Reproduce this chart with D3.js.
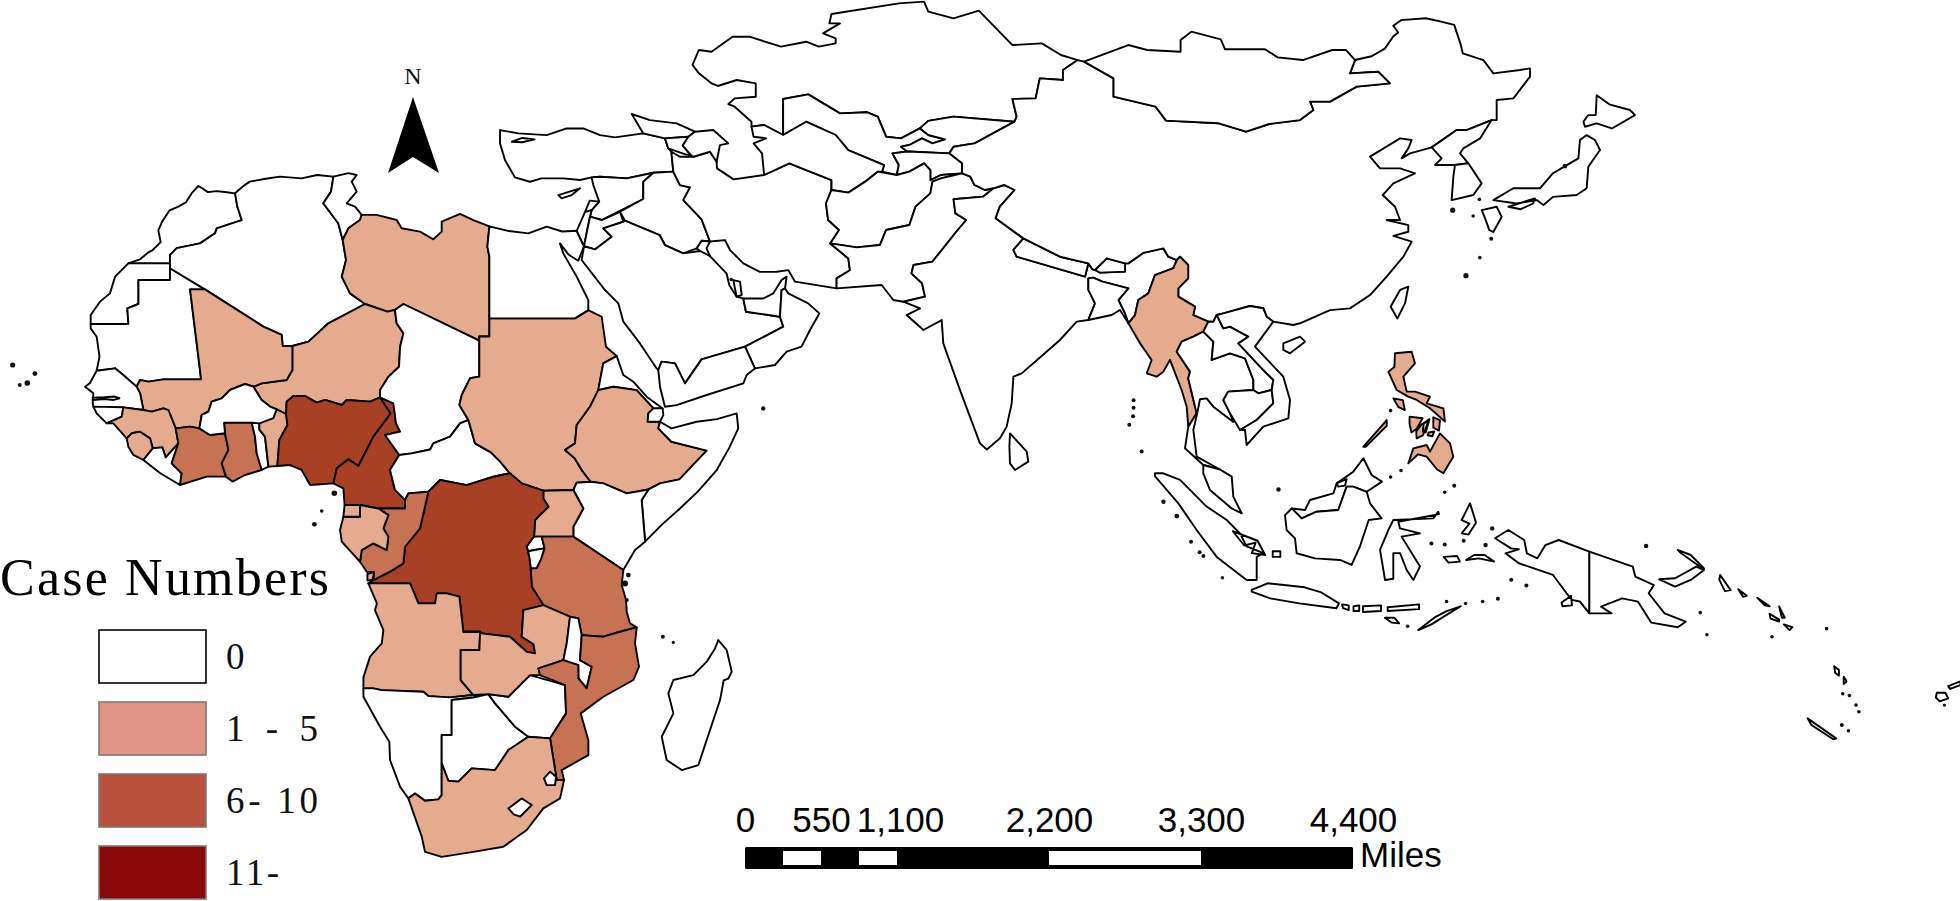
<!DOCTYPE html>
<html>
<head>
<meta charset="utf-8">
<style>
  html, body { margin: 0; background: #fff; }
  svg { display: block; }
</style>
<script src="https://cdn.jsdelivr.net/npm/d3@7"></script>
</head>
<body>
<div id="chart"></div>
<script>
const caseClasses = ['0', '1 - 5', '6- 10', '11-']
const mapColors = ['#ffffff', '#e5ab8e', '#c87254', '#a84024']
const legendColors = ['#ffffff', '#e29486', '#b9503b', '#8b0808']
const legendStrokes = ['#000000', '#7a7a7a', '#7a7a7a', '#7a7a7a']

const scaleTicks = [0, 550, 1100, 2200, 3300, 4400]
const scaleGaps = [[275, 550], [825, 1100], [2200, 3300]]

// name, case class, rings as "lon,lat" (several rings split by |)
const northWestAfrica = [
  ['Morocco', '0', '-12.96,27.7 -11.69,28.15 -10.9,28.83 -10.4,29.1 -9.56,29.93 -9.81,31.18 -9.43,32.04 -8.66,33.24 -7.65,33.7 -6.91,34.11 -6.24,35.15 -5.6,35.84 -5.19,35.6 -4.59,35.2 -3.64,35.3 -2.6,35.18 -1.73,35.07 -1.49,33.67 -1.03,32.26 -3.66,31.39 -3.84,30.86 -5.42,29.8 -7.87,29.3 -8.58,28.58 -8.58,27.7'],
  ['Western Sahara', '0', '-12.96,27.7 -8.58,27.7 -8.58,25.95 -11.9,25.95 -11.9,23.42 -13.07,22.97 -12.96,21.32 -16.93,21.32 -16.93,22.26 -15.94,23.67 -14.9,24.54 -14.36,26.3'],
  ['Mauritania', '0', '-16.93,21.32 -12.96,21.32 -13.07,22.97 -11.9,23.42 -11.9,25.95 -8.58,25.95 -8.58,27.18 -4.9,24.96 -6.47,24.96 -5.42,16.47 -5.31,15.49 -9.28,15.49 -10.86,15.25 -11.73,15.42 -12.1,14.72 -13.5,15.95 -14.36,16.65 -16.3,16.4 -16.0,17.88 -16.3,19.98 -16.93,20.86'],
  ['Algeria', '0', '-1.73,35.07 -0.9,35.8 -0.19,36.3 1.5,36.6 3.0,36.83 5.28,36.65 6.9,37.0 8.62,36.83 8.37,35.25 7.56,34.02 8.62,32.6 9.14,31.9 9.6,30.16 9.95,28.05 9.5,26.3 10.37,24.54 11.95,23.42 8.09,21.39 6.0,19.46 4.3,19.0 3.28,19.0 3.18,20.16 1.25,21.04 -4.9,24.96 -8.58,27.18 -8.58,28.58 -7.87,29.3 -5.42,29.8 -3.84,30.86 -3.66,31.39 -1.03,32.26 -1.49,33.67'],
  ['Tunisia', '0', '8.62,36.83 10.2,37.2 11.07,37.0 10.55,36.3 11.07,35.25 10.02,34.02 10.9,33.67 11.6,32.8 11.42,32.26 10.2,31.39 9.6,30.16 9.14,31.9 8.62,32.6 7.56,34.02 8.37,35.25'],
  ['Libya', '1 - 5', '11.6,32.8 13.18,32.8 15.28,32.26 15.8,31.39 17.74,31.04 19.14,30.23 20.02,31.04 20.02,32.09 21.95,32.9 23.35,32.26 25.04,31.6 24.83,29.46 25.04,28.4 25.04,20 23.98,20 23.98,19.56 15.99,23.42 15.1,22.79 14.3,22.62 11.95,23.42 10.37,24.54 9.5,26.3 9.95,28.05 9.6,30.16 10.2,31.39 11.42,32.26'],
  ['Niger', '1 - 5', '4.3,19.0 6.0,19.46 8.09,21.39 11.95,23.42 14.3,22.62 15.1,22.79 15.28,21.39 15.99,20.33 15.64,18.93 15.53,16.82 14.41,15.77 13.53,14.37 13.53,13.6 12.48,13.14 10.02,13.32 9.5,12.79 7.74,13.32 6.86,13.04 5.64,13.74 4.41,13.74 3.7,13.14 3.64,11.84 2.65,12.33 1.95,12.62 1.07,13.32 0.2,14.72 1.07,15.07 3.7,15.42 4.3,16.47'],
  ['Mali', '1 - 5', '-6.47,24.96 -4.9,24.96 1.25,21.04 3.18,20.16 3.28,19.0 4.3,19.0 4.3,16.47 3.7,15.42 1.07,15.07 0.2,14.72 -0.68,15.0 -2.26,14.37 -3.14,13.49 -4.19,13.14 -4.54,12.09 -5.24,11.74 -5.49,10.33 -6.47,10.51 -7.98,10.33 -8.75,12.26 -9.28,12.44 -10.5,12.09 -11.38,12.26 -11.73,14.02 -12.1,14.72 -11.73,15.42 -10.86,15.25 -9.28,15.49 -5.31,15.49 -5.42,16.47'],
  ['Senegal', '0', '-16.3,16.4 -14.36,16.65 -13.5,15.95 -12.1,14.72 -11.73,14.02 -11.38,12.26 -13.49,12.54 -16.65,12.62 -16.72,12.96 -16.65,14.02 -17.52,14.72 -17.0,15.1'],
  ['Gambia', '0', '-16.72,13.55 -15.5,13.6 -14.4,13.68 -13.9,13.5 -14.5,13.32 -15.5,13.42 -16.7,13.3'],
  ['Guinea-Bissau', '0', '-16.65,12.62 -13.49,12.54 -13.66,11.56 -15.24,10.86 -16.3,11.9'],
  ['Guinea', '1 - 5', '-13.49,12.54 -11.38,12.26 -10.5,12.09 -9.28,12.44 -8.75,12.26 -7.98,10.33 -7.7,8.76 -9.03,7.28 -9.38,8.33 -10.4,8.23 -10.68,9.28 -11.73,9.98 -12.6,9.81 -13.14,9.28 -14.54,10.86 -15.24,10.86 -13.66,11.56'],
  ['Sierra Leone', '1 - 5', '-13.14,9.28 -12.6,9.81 -11.73,9.98 -10.68,9.28 -10.4,8.23 -11.38,7.0 -12.44,7.53 -12.96,8.4'],
  ['Liberia', '0', '-11.38,7.0 -10.4,8.23 -9.38,8.33 -9.03,7.28 -7.7,8.76 -8.4,6.65 -7.35,5.6 -7.52,4.37 -9.6,5.6'],
  ['Ivory Coast', '6- 10', '-7.98,10.33 -6.47,10.51 -5.49,10.33 -4.37,9.63 -2.79,9.81 -2.43,8.05 -3.14,6.65 -2.68,5.25 -4.72,5.25 -7.52,4.37 -7.35,5.6 -8.4,6.65 -7.7,8.76'],
  ['Ghana', '6- 10', '-2.89,10.93 0.02,10.93 0.37,9.46 0.55,7.7 1.07,5.95 -0.68,5.42 -1.98,4.72 -2.68,5.25 -3.14,6.65 -2.43,8.05 -2.79,9.81'],
  ['Togo', '0', '0.02,10.93 0.83,10.86 0.83,10.2 1.42,9.46 1.78,6.3 1.07,5.95 0.55,7.7 0.37,9.46'],
  ['Benin', '1 - 5', '2.65,12.33 3.64,11.84 3.78,10.69 2.93,9.11 2.72,6.37 1.78,6.3 1.42,9.46 0.83,10.2 0.83,10.86'],
  ['Burkina Faso', '0', '0.2,14.72 1.07,13.32 1.95,12.62 2.65,12.33 2.3,11.4 0.83,10.86 0.02,10.93 -2.89,10.93 -2.79,9.81 -4.37,9.63 -5.49,10.33 -5.24,11.74 -4.54,12.09 -4.19,13.14 -3.14,13.49 -2.26,14.37 -0.68,15.0'],
  ['Nigeria', '11-', '2.72,6.37 2.93,9.11 3.78,10.69 3.64,11.84 3.7,13.14 4.41,13.74 5.64,13.74 6.86,13.04 7.74,13.32 9.5,12.79 10.02,13.32 12.48,13.14 13.53,13.6 14.65,11.9 12.83,9.46 11.25,6.37 10.2,7.07 8.97,6.12 8.62,4.54 6.16,4.37 5.28,5.95 4.06,6.47'],
  ['Cameroon', '11-', '13.53,13.6 14.93,12.97 15.21,10.86 15.64,9.98 14.05,9.63 15.55,7.53 14.58,5.95 15.1,3.84 16.16,2.79 16.16,1.9 13.36,1.9 11.42,2.26 9.8,2.26 9.67,4.02 8.62,4.54 8.97,6.12 10.2,7.07 11.25,6.37 12.83,9.46 14.65,11.9'],
  ['Chad', '0', '15.1,22.79 15.99,23.42 23.98,19.56 23.98,15.77 23,15.6 22.13,13.84 21.88,12.79 22.83,11.21 21.95,10.86 20.9,9.46 19.14,8.75 18.8,8.1 16.86,7.7 15.55,7.53 14.05,9.63 15.64,9.98 15.21,10.86 14.93,12.97 13.53,13.6 13.53,14.37 14.41,15.77 15.53,16.82 15.64,18.93 15.99,20.33 15.28,21.39']
]

const eastCentralAfrica = [
  ['Central African Republic', '0', '15.55,7.53 16.86,7.7 18.8,8.1 19.14,8.75 20.9,9.46 21.95,10.86 22.83,11.21 23.53,8.75 25.2,7.8 26.17,6.83 27.2,5.6 25.46,5.24 22.65,4.36 19.85,4.89 18.62,3.66 16.51,3.49 16.16,2.79 15.1,3.84 14.58,5.95'],
  ['Sudan', '1 - 5', '25.04,20 25.04,21.91 34.05,21.91 35.45,22.78 36.86,22.08 37.31,18.93 38.44,17.94 37.03,17.17 36.5,14.36 35.63,12.61 34.23,10.68 34.05,8.75 33.0,8.05 34.0,7.2 34.76,5.94 35.7,4.71 34.23,4.61 33.88,3.84 30.72,3.77 28.45,4.54 27.2,5.6 26.17,6.83 25.2,7.8 23.53,8.75 22.83,11.21 21.88,12.79 22.13,13.84 23,15.6 23.98,15.77 23.98,20'],
  ['Egypt', '0', '25.04,31.6 27.1,31.1 29.14,30.85 31.07,31.56 32.7,31.05 34.23,31.13 35.0,29.5 34.4,27.98 33.4,28.6 32.47,29.8 32.82,28.75 34.23,26.3 35.45,23.84 35.45,22.78 34.05,21.91 25.04,21.91 25.04,28.4 24.83,29.46'],
  ['Eritrea', '0', '36.5,14.36 37.03,17.17 38.44,17.94 39.14,15.94 40.19,15.24 41.59,13.66 43.28,12.43 42.3,12.43 40.54,14.36 38.09,14.71'],
  ['Ethiopia', '1 - 5', '36.5,14.36 38.09,14.71 40.54,14.36 42.3,12.43 41.77,11.9 41.7,11.03 43.0,11.03 42.82,10.33 44.2,8.92 47.91,7.98 45.04,4.96 43.0,4.54 41.78,3.9 39.5,3.49 37.04,4.54 35.7,4.71 34.76,5.94 34.0,7.2 33.0,8.05 34.05,8.75 34.23,10.68 35.63,12.61'],
  ['Djibouti', '0', '42.3,12.43 43.28,12.43 43.35,11.73 43.0,11.03 41.7,11.03 41.77,11.9'],
  ['Somalia', '0', '43.0,11.03 44.2,10.33 46.86,11.03 49.0,11.3 51.07,11.9 51.24,10.33 50.3,8.3 48.97,5.94 47.0,3.7 45.1,1.9 43.2,0.2 41.43,-1.6 41.07,2.78 41.78,3.9 43.0,4.54 45.04,4.96 47.91,7.98 44.2,8.92 42.82,10.33'],
  ['Kenya', '0', '41.07,2.78 41.43,-1.6 40.37,-2.48 39.14,-4.58 33.88,-1.07 33.88,-0.02 34.93,1.9 33.88,3.84 34.23,4.61 35.7,4.71 37.04,4.54 39.5,3.49 41.78,3.9'],
  ['Uganda', '1 - 5', '30.72,3.77 33.88,3.84 34.93,1.9 33.88,-0.02 33.88,-1.07 30.55,-1.07 29.74,-1.07 29.85,0.68 31.25,2.08 30.72,2.96'],
  ['Rwanda', '0', '29.74,-1.07 30.55,-1.07 30.85,-2.3 29.95,-2.45 29.1,-2.6 28.97,-2.1 29.4,-1.5'],
  ['Burundi', '0', '29.1,-2.6 29.95,-2.45 30.85,-2.3 30.5,-3.4 30.02,-4.41 29.39,-4.41 29.25,-3.3'],
  ['Tanzania', '6- 10', '30.55,-1.07 33.88,-1.07 39.14,-4.58 38.97,-6.16 39.43,-7.74 39.5,-9.0 39.85,-10.2 40.55,-10.62 38.79,-11.08 37.04,-11.6 34.76,-11.43 34.4,-9.67 33.53,-9.5 30.72,-8.27 29.5,-6.34 29.39,-4.41 30.02,-4.41 30.5,-3.4 30.85,-2.3'],
  ['DR Congo', '11-', '18.62,3.66 19.85,4.89 22.65,4.36 25.46,5.24 27.2,5.6 28.45,4.54 30.72,3.77 30.72,2.96 31.25,2.08 29.85,0.68 29.74,-1.07 29.4,-1.5 28.97,-2.1 29.1,-2.6 29.25,-3.3 29.39,-4.41 29.5,-6.34 30.72,-8.27 28.62,-8.8 28.44,-11.6 29.67,-12.37 29.85,-13.36 28.97,-13.18 27.21,-11.6 24.23,-11.25 24.06,-11.08 22.3,-11.08 21.88,-7.39 20.55,-7.04 19.5,-7.04 19.32,-8.09 17.57,-8.09 16.69,-5.99 12.3,-5.99 12.83,-5.64 14.58,-4.76 15.99,-3.88 16.16,-2.13 17.74,-0.2'],
  ['Congo', '6- 10', '16.51,3.49 18.62,3.66 17.74,-0.2 16.16,-2.13 15.99,-3.88 14.58,-4.76 12.83,-5.64 12.9,-4.8 12.13,-4.76 11.42,-3.71 11.6,-2.48 12.83,-1.78 14.23,-2.48 14.41,-1.07 13.88,-0.2 14.41,1.2 13.36,1.9 16.16,1.9 16.16,2.79'],
  ['Gabon', '1 - 5', '11.42,2.26 13.36,1.9 14.41,1.2 13.88,-0.2 14.41,-1.07 14.23,-2.48 12.83,-1.78 11.6,-2.48 11.42,-3.71 9.5,-1.6 9.32,-0.37 9.67,1.03 11.42,1.03'],
  ['Equatorial Guinea', '1 - 5', '9.8,2.26 11.42,2.26 11.42,1.03 9.67,1.03'],
  ['Angola', '1 - 5', '12.3,-5.99 16.69,-5.99 17.57,-8.09 19.32,-8.09 19.5,-7.04 20.55,-7.04 21.88,-7.39 22.3,-11.08 24.06,-11.08 23.99,-13 22.02,-13 22.02,-16.16 23.35,-17.74 20.9,-17.99 18.62,-17.85 18.09,-17.39 13.71,-17.22 12.83,-17.04 11.78,-17.04 11.78,-15.88 12.48,-13.7 13.71,-12.3 13.88,-10.9 13.0,-8.8 13.2,-8.1|12.2,-5.0 12.9,-4.8 12.75,-5.6 12.2,-5.7']
]

const southernAfrica = [
  ['Namibia', '0', '11.78,-17.04 12.83,-17.04 13.71,-17.22 18.09,-17.39 18.62,-17.85 20.9,-17.99 23.35,-17.74 24.93,-17.64 23.35,-18.0 21.07,-18.27 21.07,-21.95 20.02,-21.95 20.02,-28.27 19.67,-28.72 18.27,-28.87 17.21,-28.1 16.51,-28.62 15.64,-27.39 14.58,-24.58 14.51,-22.65 13.53,-21.07 11.78,-17.92'],
  ['Botswana', '0', '21.07,-18.27 23.35,-18.0 24.93,-17.64 25.64,-18.62 27.74,-21.07 29.14,-22.13 27.04,-23.53 25.64,-25.64 23.18,-25.46 21.78,-26.86 20.72,-26.76 20.02,-24.94 20.02,-21.95 21.07,-21.95'],
  ['Zimbabwe', '0', '24.93,-17.64 27.04,-17.92 29.32,-15.64 33.0,-16.7 33.11,-19.67 31.43,-22.3 29.14,-22.13 27.74,-21.07 25.64,-18.62'],
  ['Zambia', '1 - 5', '22.3,-11.08 24.06,-11.08 24.23,-11.25 27.21,-11.6 28.97,-13.18 29.85,-13.36 29.67,-12.37 28.44,-11.6 28.62,-8.8 30.72,-8.27 33.53,-9.5 33.18,-12.3 32.83,-14.06 30.2,-14.94 30.37,-15.64 29.32,-15.64 27.04,-17.92 24.93,-17.64 23.35,-17.74 22.02,-16.16 22.02,-13 23.99,-13 24.06,-11.08'],
  ['Malawi', '0', '33.53,-9.5 34.4,-9.67 34.76,-11.43 34.58,-14.06 35.81,-14.76 35.28,-17.04 34.41,-15.99 34.4,-14.6 32.83,-14.06 33.18,-12.3'],
  ['Mozambique', '6- 10', '40.55,-10.62 38.79,-11.08 37.04,-11.6 34.76,-11.43 34.58,-14.06 35.81,-14.76 35.28,-17.04 34.41,-15.99 34.4,-14.6 32.83,-14.06 30.2,-14.94 30.37,-15.64 33.0,-16.7 33.11,-19.67 31.43,-22.3 32.13,-26.69 32.9,-26.69 32.65,-25.64 35.46,-24.06 35.46,-22.5 34.65,-19.67 37.04,-17.92 40.2,-16.16 40.79,-14.76 40.37,-12.3'],
  ['South Africa', '1 - 5', '20.02,-24.94 20.72,-26.76 21.78,-26.86 23.18,-25.46 25.64,-25.64 27.04,-23.53 29.14,-22.13 31.43,-22.3 32.13,-26.69 32.9,-26.69 32.48,-28.62 30.72,-29.67 28.97,-31.95 26.51,-33.71 23.35,-34.25 20.02,-34.77 18.27,-34.25 17.92,-32.65 16.51,-28.62 17.21,-28.1 18.27,-28.87 19.67,-28.72 20.02,-28.27'],
  ['Lesotho', '0', '27.04,-29.67 28.44,-28.62 29.5,-29.32 28.27,-30.55 27.6,-30.3'],
  ['Swaziland', '0', '30.79,-26.51 31.43,-25.81 32.06,-26.34 31.95,-27.22 31.07,-27.22'],
  ['Madagascar', '0', '49.14,-11.95 50.02,-13 50.55,-15.29 50.2,-16 49.7,-16.2 49.32,-18.27 47.04,-25.11 45.28,-25.64 43.7,-24.58 43.18,-22.13 44.41,-19.67 43.88,-17.57 44.41,-16.16 46.51,-15.64 47.92,-14.23 48.79,-12.83']
]

const middleEast = [
  ['Turkey', '0', '26.16,41.73 28.1,41.38 31.07,41.2 33.17,41.9 34.93,41.9 36.68,41.2 38.26,40.96 41.24,41.38 43.52,40.85 43.87,39.8 44.2,39.45 44.4,37.35 42.3,37.24 39.49,36.64 36.68,36.82 35.8,36.75 34.58,36.47 32.82,36.64 30.54,36.64 29.3,36.29 27.73,36.75 26.68,38.57 26.16,40.33'],
  ['Marmara', '0', '27.4,40.5 28.5,40.9 29.8,40.75 28.5,40.45'],
  ['Cyprus', '0', '32.3,34.89 34.58,35.6 33.7,34.89 32.65,34.54'],
  ['Syria', '0', '35.8,36.75 36.68,36.82 39.49,36.64 42.3,37.24 41.24,36.29 41.24,34.47 36.86,32.26 35.63,32.61 35.8,33.3 36.6,34.2 35.98,35.94'],
  ['Lebanon', '0', '35.1,33.1 35.6,34.3 36.6,34.2 35.8,33.3'],
  ['Israel', '0', '34.23,31.13 35.1,33.1 35.8,33.3 35.63,32.61 35.4,31.5 35.0,29.5'],
  ['Jordan', '0', '36.86,32.26 35.63,32.61 35.4,31.5 35.0,29.5 36.15,29.17 37.91,30.5 37.03,31.38 39.14,32.08 38.79,33.13'],
  ['Iraq', '0', '42.3,37.24 44.4,37.35 45.1,35.94 46.16,35.7 45.45,34.36 47.38,32.33 48.26,30.0 47.38,30.08 46.86,29.27 45.45,28.75 43.52,29.63 42.96,30.68 39.31,32.19 38.79,33.13 41.24,34.47 41.24,36.29'],
  ['Kuwait', '0', '46.86,29.27 47.38,30.08 48.26,30.0 47.9,29.27 48.26,28.47 47.2,29.0'],
  ['Saudi Arabia', '0', '34.75,28.05 35.0,29.5 36.15,29.17 37.91,30.5 37.03,31.38 39.14,32.08 39.31,32.19 42.96,30.68 43.52,29.63 45.45,28.75 47.2,29.0 48.26,28.47 50.0,26.65 50.3,25.4 51.07,24.19 51.77,24.0 52.05,22.61 55.63,22.08 55.98,21.03 51.95,18.93 47.38,17.59 45.63,15.07 44.58,17.17 43.17,17.35 42.82,16.47 42.65,16.64 40.89,19.27 39.14,21.56 38.61,23.49 37.21,24.89'],
  ['Qatar', '0', '50.72,25.94 51.42,25.77 51.6,24.37 51.07,24.19 50.9,25.0'],
  ['UAE', '0', '51.77,24.0 52.05,22.61 55.63,22.08 55.8,24.89 56.16,25.07 56.33,26.3 55.8,25.94 54.93,24.54 53.87,24.0'],
  ['Oman', '0', '51.95,18.93 55.98,21.03 55.63,22.08 55.8,24.89 56.16,25.07 56.5,24.54 58.6,23.49 59.77,22.43 58.79,20.68 57.9,18.93 56.33,18.4 55.1,17 52.99,16.64'],
  ['Yemen', '0', '42.82,16.47 43.17,17.35 44.58,17.17 45.63,15.07 47.38,17.59 51.95,18.93 52.99,16.64 52.12,15.94 51.77,15.07 47.91,13.84 44.75,12.78 43.52,12.61 43.0,14.71'],
  ['Iran', '0', '44.2,39.45 45.1,38.92 46.51,38.92 48.26,39.45 48.96,38.4 49.0,37.7 50.75,36.54 53.96,37.0 56.62,38.23 58.39,37.52 61.05,36.47 61.05,35.42 60.47,34.0 60.7,32.26 61.85,31.21 60.92,29.8 62.82,28.22 62.99,26.98 61.59,26.12 61.59,25.07 57.21,25.77 56.5,26.99 55.28,26.82 53.5,26.8 51.77,27.7 50.37,29.1 49.84,30.15 48.26,30.0 47.38,32.33 45.45,34.36 46.16,35.7 45.1,35.94 44.4,37.35'],
  ['Georgia', '0', '40.02,43.42 41.94,42.78 44.75,42.43 46.68,41.56 45.98,41.03 43.52,40.85 41.24,41.38'],
  ['Armenia', '0', '43.52,40.85 45.98,41.03 45.4,40.1 46.3,39.05 45.6,39.2 43.87,39.8'],
  ['Azerbaijan', '0', '46.68,41.56 48.61,41.73 50.19,40.33 49.31,40.15 48.96,38.4 48.26,39.45 46.51,38.92 46.3,39.05 45.4,40.1 45.98,41.03']
]

const centralSouthAsia = [
  ['Kazakhstan', '0', '47.09,50.16 48.42,49.98 50.64,51.56 52.41,51.56 54.63,50.86 55.73,50.51 58.39,51.03 59.72,50.51 61.49,50.86 61.49,51.39 60.16,51.91 61.94,52.96 60.83,52.96 61.05,53.95 68.14,55.07 70.8,55.25 71.24,54.19 73.9,53.49 76.56,54.3 80.1,50.68 83.2,50.86 85.2,49.63 86.97,49.1 85.42,48.05 85.42,47 82.98,47.17 82.54,45.07 80.1,45 80.54,43.14 80.32,42.61 73.9,43.14 71.24,42.7 70.35,41.91 68.36,40.86 66.8,41.03 65.92,43.14 64.82,43.6 61.94,43.49 58.61,45.49 55.96,45 55.96,41.21 53.96,42.26 52.63,42.09 52.63,42.61 50.86,44.19 50.2,44.47 50.86,45.07 53.08,45.24 53.08,46.65 51.08,47 49.09,46.37 48.42,46.65 47.09,47.7 46.43,48.58'],
  ['Uzbekistan', '0', '55.96,45 58.61,45.49 61.94,43.49 64.82,43.6 65.92,43.14 66.8,41.03 68.36,40.86 70.35,41.91 71.24,41.21 73.01,40.75 71.68,40.33 70.58,40.86 69.25,40.16 68.36,39.98 69.03,39.47 67.47,39.28 68.14,38.05 67.92,37 66.37,37.35 66.59,38.05 62.82,39.63 61.49,41.21 59.94,41.9 58.39,42.61 55.96,41.21'],
  ['Turkmenistan', '0', '55.96,41.21 58.39,42.61 59.94,41.9 61.49,41.21 62.82,39.63 66.59,38.05 66.37,37.35 65.92,37.35 64.6,36.3 62.82,35.14 61.05,35.42 61.05,36.47 58.39,37.52 56.62,38.23 53.96,37 53.74,39.28 52.85,40.33 54.18,40.86 52.85,41.03 52.63,42.09 53.96,42.26'],
  ['Kyrgyzstan', '0', '70.35,41.91 71.24,42.7 73.9,43.14 80.32,42.61 76.11,40.33 73.9,39.98 73.46,39.28 69.25,39.47 69.03,39.47 68.36,39.98 69.25,40.16 70.58,40.86 71.68,40.33 73.01,40.75 71.24,41.21'],
  ['Tajikistan', '0', '67.47,39.28 69.03,39.47 73.46,39.28 74.8,38.23 74.8,37.17 72.57,37.0 71.46,36.47 71.46,37.52 70.8,38.23 69.25,37.35 67.92,37 68.14,38.05'],
  ['Afghanistan', '0', '61.05,35.42 62.82,35.14 64.6,36.3 65.92,37.35 67.92,37 69.25,37.35 70.8,38.23 71.46,37.52 71.46,36.47 72.57,37 74.8,37.17 72.57,36.65 71.68,36.3 71.46,35.07 69.9,33.67 69.25,31.74 66.8,31.21 66.15,29.63 63.7,29.38 60.92,29.8 61.85,31.21 60.7,32.26 60.47,34'],
  ['Pakistan', '0', '60.92,29.8 63.7,29.38 66.15,29.63 66.8,31.21 69.25,31.74 69.9,33.67 71.46,35.07 71.68,36.3 72.57,36.65 74.8,37.17 75.67,36.82 76.1,35.95 77.2,35.42 78.1,35.6 77,34.72 73.9,34.44 74.1,32.96 75.23,32.26 74.34,31.21 72.8,29.28 71.68,27.88 69.69,27.53 69.47,26.65 70.58,25.6 70.9,24.19 68.61,23.66 67.56,23.84 66.33,25.42 61.59,25.07 61.59,26.12 62.99,26.98 62.82,28.22'],
  ['India', '0', '73.9,34.44 77,34.72 78.1,35.6 79.22,35.95 80.32,35.42 78.77,33.67 78.33,32.44 81.25,30.33 80.2,29.11 80.54,28.4 87.74,26.3 88.09,27.7 88.5,27.1 88.79,27 89.32,26.72 91.95,26.83 91.95,27.7 92.3,27.7 93.88,28.8 95.98,29.28 96.51,28.4 97.4,28.05 97.04,27.2 95.1,26.47 94.4,24.54 93.35,23.84 93,22.26 92.3,21.39 91.95,22.4 91.25,23.84 92.3,25.07 89.5,25.8 88.6,26.2 88.09,26.12 88.09,24.9 88.79,23.49 88.09,21.74 86.86,21.56 85.1,19.63 82.3,17.18 81.07,16.12 80.2,15.77 80.02,12.96 79.49,10.51 78.79,9.28 77.4,8.1 76.68,8.75 74.58,14.36 72.82,19.28 72.65,21.73 70.72,20.68 68.96,22.26 70.37,22.96 68.61,23.66 70.9,24.19 70.58,25.6 69.47,26.65 69.69,27.53 71.68,27.88 72.8,29.28 74.34,31.21 75.23,32.26 74.1,32.96'],
  ['Nepal', '0', '81.25,30.33 80.2,29.11 80.54,28.4 87.74,26.3 88.09,27.7 85.1,28.4'],
  ['Bhutan', '0', '88.79,27 90.02,28.23 91.95,27.7 91.95,26.83 89.32,26.72'],
  ['Bangladesh', '0', '88.09,26.12 88.6,26.2 89.5,25.8 92.3,25.07 91.25,23.84 91.95,22.4 92.3,21.39 91.42,22.79 90.54,22.26 88.09,21.74 88.79,23.49 88.09,24.9'],
  ['Sri Lanka', '0', '79.84,9.8 81.6,7.88 81.77,6.83 80.37,5.95 79.84,6.65 79.78,8.4']
]

const eastAsia = [
  ['China', '0', '87.63,48.93 90.74,47.17 90.74,45.25 95.17,44.19 96.27,42.72 101.81,42.44 104.69,41.56 107.13,42.37 110.37,42.78 111.77,43.84 111.42,44.72 113.53,44.72 116.34,46.3 119.84,46.65 118.6,47.87 115.63,47.7 116.16,49.1 117.9,49.5 119.3,50.3 120.2,51.6 120.7,52 120.2,52.7 121,53.3 123.6,53.5 125,53.2 126.6,52.8 127.3,50.7 127.5,49.8 129.67,49.1 130.72,47.7 133.53,48.05 134.58,48.22 134.58,47.35 132.83,45.07 131.07,44.89 131.07,42.78 130.54,42.78 127.91,41.73 126.86,41.73 124.23,39.91 121.95,39.28 121.07,38.75 121.77,39.8 122.12,40.68 120.9,40.85 117.74,38.93 118.79,37.7 120.9,37.7 122.47,37.17 120.2,36.12 119.07,34.89 120.37,33.66 120.9,32.26 119.49,32.26 121.77,31.73 121.77,31.03 120.2,30.6 122.12,29.98 121.25,28.4 119.49,26.3 117.74,24.36 115.63,22.96 113.53,22.78 110.37,21.39 109.67,21.21 107.56,21.56 106.86,22.09 106.51,22.97 105.1,23.21 102.3,22.44 101.6,22.26 101.25,21.56 100.72,21.56 99.14,22.26 99.32,23.14 97.56,24.2 97.56,25.07 98.6,26.12 98.6,27.53 97.74,28.4 97.4,28.05 96.51,28.4 95.98,29.28 93.88,28.8 92.3,27.7 91.95,27.7 90.02,28.23 88.79,27 88.5,27.1 88.09,27.7 85.1,28.4 81.25,30.33 78.33,32.44 78.77,33.67 80.32,35.42 79.22,35.95 78.1,35.6 77.2,35.42 76.1,35.95 75.67,36.82 74.8,37.17 74.8,38.23 73.46,39.28 73.9,39.98 76.11,40.33 80.32,42.61 80.54,43.14 80.1,45 82.54,45.07 82.98,47.17 85.42,47 85.42,48.05 86.97,49.1'],
  ['Mongolia', '0', '87.63,48.93 92.3,50.68 94.28,50.16 97.8,49.98 97.8,51.21 98.93,52.09 102.03,51.28 102.48,50.23 106.69,50.23 108.02,49.38 110.67,49.1 113.77,50.16 115.2,50.16 116.16,49.1 115.63,47.7 118.6,47.87 119.84,46.65 116.34,46.3 113.53,44.72 111.42,44.72 111.77,43.84 110.37,42.78 107.13,42.37 104.69,41.56 101.81,42.44 96.27,42.72 95.17,44.19 90.74,45.25 90.74,47.17'],
  ['North Korea', '0', '124.23,39.91 126.86,41.73 127.91,41.73 130.54,42.78 129.32,40.85 127.56,39.8 127.21,39.28 128.09,38.23 126.68,38.05 124.58,38.05 125.28,38.75'],
  ['South Korea', '0', '126.68,38.05 128.09,38.23 129.49,36.12 128.61,34.89 126.33,34.36 126.51,36.82'],
  ['Taiwan', '0', '121.77,25.24 120.9,24.9 119.91,23.13 120.62,21.9 121.42,23.48'],
  ['Hainan', '0', '108.61,19.28 110.37,19.98 110.9,19.46 109.32,18.23 108.61,18.6'],
  ['Japan', '0', '130.72,34.36 132.82,35.6 135.63,35.6 136.98,37.17 139.67,38.75 139.84,40.68 140.54,41.2 141.42,40.68 141.95,39.63 140.72,37.87 140.54,35.6 139.49,34.89 137,34.7 136,33.84 135.28,34.36 133.17,34|141.6,45.4 143,44.4 145.1,43.84 145.63,43.3 143.2,41.9 141.6,42.43 140.37,42.08 140.2,42.6 140.7,43.3 141.5,43.3|132.3,33.66 135.1,34.54 134.9,34 133.6,33.4|129.5,33.3 131.07,33.66 131.6,32.6 130.72,31 130.3,31.2 129.9,32.3']
]

const southeastAsia = [
  ['Myanmar', '1 - 5', '97.74,28.4 98.6,27.53 98.6,26.12 97.56,25.07 97.56,24.2 99.32,23.14 99.14,22.26 100.72,21.56 100.19,20.51 99.14,19.98 97.91,19.46 97.39,18.4 98.79,16.3 98.6,15.6 99.49,11.91 98.61,10.51 98.44,12.61 97.91,14.37 96.68,17.53 95.98,16.3 95.28,15.77 94.23,16.12 94.75,17.53 93.53,19.28 92.3,21.39 93,22.26 93.35,23.84 94.4,24.54 95.1,26.47 97.04,27.2 97.4,28.05'],
  ['Thailand', '0', '100.19,20.51 101.25,19.46 101.07,17.53 103,18.23 104.58,17.7 105.46,15.42 105.46,14.37 102.82,14.2 102.3,13.32 103,11.91 103.35,11 101.25,12.61 100.54,13.49 99.84,13.4 99.55,11.91 99.14,10.16 99.49,7.35 101.95,6 100.19,6.47 98.26,8.23 98.61,10.51 99.49,11.91 98.6,15.6 98.79,16.3 97.39,18.4 97.91,19.46 99.14,19.98'],
  ['Laos', '0', '101.6,22.26 102.3,20.86 103,21.04 104.93,19.98 103.88,19.28 106.51,16.47 107.56,15.42 107.39,14.37 105.98,14.02 105.46,14.37 105.46,15.42 104.58,17.7 103,18.23 101.07,17.53 101.25,19.46 100.19,20.51 100.72,21.56 101.25,21.56'],
  ['Cambodia', '0', '102.3,13.32 102.82,14.2 105.46,14.37 105.98,14.02 107.39,14.37 107.56,12.96 105.81,11.21 104.05,10.16 103,11.91'],
  ['Vietnam', '0', '101.6,22.26 102.3,22.44 105.1,23.21 106.51,22.97 106.86,22.09 107.56,21.56 105.63,18.93 108.61,15.77 109.32,13.32 109.14,11.39 106.51,10.51 104.75,8.58 104.58,10.16 104.05,10.16 105.81,11.21 107.56,12.96 107.39,14.37 107.56,15.42 106.51,16.47 103.88,19.28 104.93,19.98 103,21.04 102.3,20.86'],
  ['Malaysia', '0', '100.19,6.47 101.95,6 103.18,5.25 103.35,3.14 104.23,1.39 103.18,1.9 100.89,3.84 100.19,5.6|109.5,1.9 110.54,0.86 112.12,1.56 114.4,1.74 115.28,4.2 115.98,4.2 117.39,3.65 119,4.72 117.91,5.42 117.04,7.18 115.98,5.77 114.23,4.54 113.88,3.49 111.42,2.79 110.9,1.74'],
  ['Indonesia', '0', '95.1,5.6 95.98,5.6 97.74,4.9 100.54,2.1 102.65,0.68 104.05,-0.72 104.75,-2.1 106.51,-2.8 105.81,-3.2 105.81,-5.63 104.75,-5.63 101.6,-3.2 99.49,-0.37 97.56,2.44 95.1,5.3|105.28,-6.68 106.95,-5.98 110.85,-6.4 112.53,-6.9 114.47,-8.09 114.2,-8.6 110.3,-8.09 107.23,-7.56 105.28,-6.86|109.5,1.9 110.54,0.86 112.12,1.56 114.4,1.74 115.28,4.2 115.98,4.2 117.39,3.65 117.74,2.44 118.96,0.86 117.6,0.68 116.68,-2.1 115.8,-4.05 114.58,-3.52 111.95,-3.35 110.02,-2.82 109.84,-1.25 108.96,-0.37 108.79,1.2|124.93,1.56 124.4,0.86 120.19,0.68 119.67,-0.37 118.79,-2.47 119.32,-5.63 120.19,-5.5 120.19,-2.8 120.9,-2.8 121.6,-4.58 122.3,-5.63 123,-4.2 121.07,-1.07 123,-0.72 120.89,-0.19 120.72,0.5 125,1.3|128.26,2.44 127.39,0.68 128.2,0.3 127.39,-0.72 128.1,-0.85 128.9,0.4|140.83,-2.65 137.6,-1.42 136.2,-1.95 135.36,-3.35 134.25,-2.82 133.97,-1.42 132.3,-0.37 130.9,-1.24 132.58,-2.3 133.4,-2.4 132,-2.82 133.4,-3.87 137,-5.1 138.43,-7.03 139,-7.73 139.83,-7.9 140.83,-9.14|122.83,-10.9 124.5,-9.6 125.8,-8.9 127.29,-8.4 125.8,-9.3 124.2,-10.3|127.85,-3.52 128.7,-3 129.8,-3 130.8,-3.7 129.2,-3.35|119.3,-9.6 120.3,-9.6 120.8,-10.2 120,-10.1|114.8,-8.2 115.5,-8.3 115.5,-8.8 114.9,-8.6|116,-8.4 116.6,-8.3 116.6,-8.9 116,-8.9|117,-8.4 118.9,-8.3 118.9,-8.9 117,-9|119.6,-8.5 122.9,-8.2 122.9,-8.7 119.6,-8.9|103.3,-0.5 104.5,-2 105.7,-1.7 105.3,-2.8 106.7,-3 105.9,-1.5|107.5,-2.6 108.3,-2.6 108.3,-3.2 107.5,-3.2|125.5,-3.2 126.9,-3.1 127.2,-3.7 126,-3.8|137.9,-8 138.9,-7.3 139,-8.3 138,-8.4'],
  ['Brunei', '0', '114.23,4.54 115.28,5.0 115.1,4.3 114.4,4.2'],
  ['Philippines', '1 - 5', '120.37,18.23 122.12,18.4 122.47,17.18 121.25,15.77 121.6,14.2 122.47,14.2 124.05,13.67 123.7,12.97 125.46,12.44 125.63,11.04 124.05,12.44 122.65,13.32 121.77,13.67 120.54,14.37 119.67,16.3 120.3,16.8|120.19,13.49 121.2,13.3 121.4,12.26 120.7,12.6|121.9,11.56 123.27,11.39 122.65,10.3 122.1,9.9 121.9,10.8|122.65,9.28 123.3,9.6 123.88,11.04 123.2,10.8 122.6,10|124.4,11.5 125.1,11.2 125,10.1 124.4,10.4|123.4,10.9 124,11.3 123.6,9.9 123.3,10|123.9,9.9 124.5,10 124.3,9.5 123.8,9.6|121.77,6.65 122.3,8.23 123.7,8.58 124.05,7.88 125.1,9.8 126.16,8.75 126.5,7.35 125.46,5.6 124.8,6 123.7,7.35 122.8,7.6|117.04,8.4 119.5,11.2 119.5,10.6 117.3,8.4']
]

const oceania = [
  ['Papua New Guinea', '0', '140.83,-2.65 145.4,-4.23 145.67,-5.28 147.62,-6.16 147.07,-7.03 148.74,-9.14 150.97,-10.02 150.13,-10.61 147.35,-10.12 145.95,-7.91 144.28,-7.56 142.05,-8.44 143.17,-9.14 140.83,-9.14|148.18,-5.56 149.85,-5.45 152.08,-4.23 152.9,-4.58 151.5,-5.63 149.85,-6.33|150.13,-2.47 151.5,-3 152.9,-4.4 152.3,-4.1 150.6,-2.9|154.6,-5.1 155.7,-6.7 155.1,-6.8 154.5,-5.6'],
  ['Solomon Islands', '0', '156.5,-6.6 157.4,-7.3 157,-7.4|158.5,-7.5 159.8,-8.4 159.3,-8.3|159.8,-9.2 160.8,-9.8 160.8,-10 159.9,-9.7|160.8,-8.4 161.4,-9.6 161.1,-9.6|161.3,-10.3 162.2,-10.6 161.9,-10.9'],
  ['New Caledonia', '0', '163.8,-20.2 166.8,-22.3 166.5,-22.4 164.2,-20.9'],
  ['Fiji', '0', '177.4,-17.5 178.3,-17.5 178.6,-18.1 177.7,-18.4 177.3,-18'],
  ['Fiji north', '0', '178.6,-16.8 179.9,-16.3 179.9,-16.7 178.8,-17.1'],
  ['Vanuatu', '0', '166.6,-14.7 167.1,-15.1 167.1,-15.7 166.7,-15.4|167.6,-15.8 167.9,-16.3 167.6,-16.6']
]

// lon, lat, radius of islands too small to show an outline
const tinyIslands = [
  [-25.14, 17.0, 2.6], [-22.8, 16.1, 2.4], [-24.4, 14.9, 2], [-23.6, 15.1, 2.8],
  [8.72, 3.5, 2.8], [7.39, 1.63, 1.8], [6.62, 0.23, 2.4],
  [39.67, -5.11, 2.4], [39.32, -6.0, 3], [39.5, -7.74, 2],
  [43.3, -11.6, 2], [44.4, -12.2, 1.6], [50.5, 26.0, 1.8], [53.87, 12.43, 2.2],
  [92.85, 12.5, 2], [92.85, 13.3, 2], [92.8, 11.6, 2], [92.4, 10.7, 2], [93.7, 7.9, 2],
  [96, 2.6, 2.2], [97.4, 1.1, 2.4], [98.9, -1.6, 2], [99.8, -2.7, 2], [100.2, -3.1, 2], [102.2, -5.4, 1.8],
  [108.1, 3.9, 2.2], [119.9, 12.2, 1.8], [119.9, 5.2, 1.8], [121, 5.9, 1.8], [126.6, 4.3, 2], [125.6, 3.6, 1.8],
  [138.26, 37.94, 2.4], [129.25, 34.43, 1.8], [126.44, 33.3, 2.6], [128.6, 32.68, 1.8], [130.5, 30.3, 2], [129.3, 28.3, 1.8], [127.84, 26.4, 2.6],
  [146.8, -2.05, 2.2], [152.5, -9.07, 1.8], [153.2, -11.4, 1.8], [160.05, -11.6, 1.8], [165.8, -10.75, 1.8],
  [167.5, -17.6, 1.8], [168.2, -17.8, 1.8], [168.9, -18.8, 1.8], [169.2, -19.5, 1.8], [167.4, -20.9, 2], [168.1, -21.5, 1.8], [178.2, -18.8, 1.6],
  [129.9, -1.95, 2.2], [130.6, -0.2, 2.2], [127.6, -1.5, 2], [124.2, -1.8, 2], [125.6, -1.9, 2], [132.6, -5.6, 2], [134.2, -6.2, 2], [131.2, -7.6, 2], [129.6, -7.9, 1.8], [127.8, -8.1, 1.8], [125.8, -7.9, 1.8], [121.7, -10.5, 1.8]
]

const width = 1960
const height = 901
const mapRegions = [northWestAfrica, eastCentralAfrica, southernAfrica, middleEast, centralSouthAsia, eastAsia, southeastAsia, oceania]

const svg = d3.select('#chart').append('svg').attr('width', width).attr('height', height)
svg.append('rect').attr('width', width).attr('height', height).attr('fill', '#fff')

const projection = d3.geoIdentity().reflectY(true).scale(9.5).translate([251.5, 526.5])
const path = d3.geoPath(projection)
const caseColor = d3.scaleOrdinal(caseClasses, mapColors)

function parseRing(text) {
  return text.split(' ').map((p) => p.split(',').map(Number))
}

const features = mapRegions.flat().map(([name, cases, rings]) => ({
  type: 'Feature',
  properties: { name, cases },
  geometry: {
    type: 'MultiPolygon',
    coordinates: rings.split('|').map((r) => {
      const ring = parseRing(r)
      return [[...ring, ring[0]]]
    })
  }
}))

svg.append('g')
  .selectAll('path')
  .data(features)
  .join('path')
  .attr('d', path)
  .attr('fill', (d) => caseColor(d.properties.cases))
  .attr('stroke', '#000')
  .attr('stroke-width', 1.9)
  .attr('stroke-linejoin', 'round')

svg.append('g')
  .selectAll('circle')
  .data(tinyIslands)
  .join('circle')
  .attr('cx', (d) => projection([d[0], d[1]])[0])
  .attr('cy', (d) => projection([d[0], d[1]])[1])
  .attr('r', (d) => d[2])
  .attr('fill', '#111')

// Legend
svg.append('text')
  .text('Case Numbers')
  .attr('x', 0)
  .attr('y', 595)
  .attr('font-family', '"Liberation Serif", serif')
  .attr('font-size', 52)
  .attr('fill', '#000')
  .attr('textLength', 329)
  .attr('lengthAdjust', 'spacing')

const legendY = d3.scalePoint().domain(caseClasses).range([630, 846])
const legend = svg.append('g')
  .selectAll('g')
  .data(caseClasses)
  .join('g')
  .attr('transform', (d) => `translate(99,${legendY(d)})`)

legend.append('rect')
  .attr('width', 107)
  .attr('height', 53)
  .attr('fill', (d, i) => legendColors[i])
  .attr('stroke', (d, i) => legendStrokes[i])
  .attr('stroke-width', 1.6)

legend.append('text')
  .text((d) => d)
  .attr('x', 127)
  .attr('y', 39)
  .attr('font-family', '"Liberation Serif", serif')
  .attr('font-size', 37)
  .attr('fill', '#111')
  .attr('textLength', (d) => ({ '0': 18, '1 - 5': 92, '6- 10': 92, '11-': 53 })[d])
  .attr('lengthAdjust', 'spacing')

// North arrow
const northX = 413
svg.append('text')
  .text('N')
  .attr('x', northX)
  .attr('y', 84)
  .attr('text-anchor', 'middle')
  .attr('font-family', '"Liberation Serif", serif')
  .attr('font-size', 24)
  .attr('fill', '#111')

svg.append('path')
  .attr('d', d3.line()([[northX, 97], [northX + 26, 173], [northX, 157], [northX - 25, 173]]) + 'Z')
  .attr('fill', '#000')

// Scale bar
const milesX = d3.scaleLinear().domain([0, 4400]).range([745, 1353])
const bar = svg.append('g')
bar.append('rect')
  .attr('x', milesX(0))
  .attr('y', 847)
  .attr('width', milesX(4400) - milesX(0))
  .attr('height', 22)
  .attr('rx', 1.5)
  .attr('fill', '#000')

bar.selectAll('.gap')
  .data(scaleGaps)
  .join('rect')
  .attr('class', 'gap')
  .attr('x', (d) => milesX(d[0]))
  .attr('y', 851)
  .attr('width', (d) => milesX(d[1]) - milesX(d[0]))
  .attr('height', 14)
  .attr('fill', '#fff')

const scaleAxis = svg.append('g')
  .attr('transform', 'translate(0,832)')
  .call(d3.axisTop(milesX).tickValues(scaleTicks).tickFormat(d3.format(',')).tickSize(0).tickPadding(0))

scaleAxis.select('.domain').remove()
scaleAxis.selectAll('text')
  .attr('font-family', '"Liberation Sans", Arial, sans-serif')
  .attr('font-size', 35)
  .attr('fill', '#000')
  .attr('dx', (d) => (d === 1100 ? 3 : 0))

svg.append('text')
  .text('Miles')
  .attr('x', 1360)
  .attr('y', 867)
  .attr('font-family', '"Liberation Sans", Arial, sans-serif')
  .attr('font-size', 35)
  .attr('fill', '#000')
</script>
</body>
</html>
